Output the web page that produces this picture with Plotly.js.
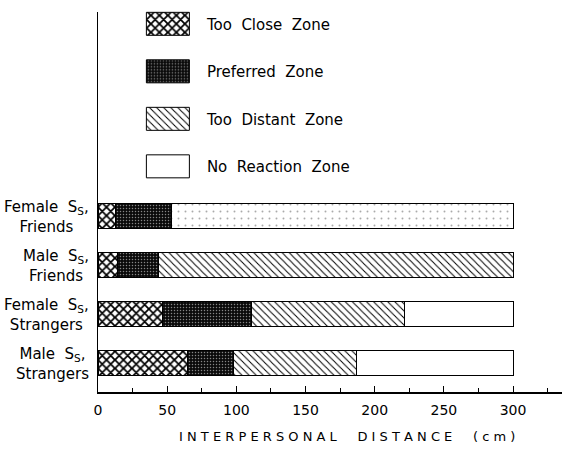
<!DOCTYPE html>
<html><head><meta charset="utf-8">
<script src="https://cdn.plot.ly/plotly-3.0.1.min.js"></script>
<style>html,body{margin:0;padding:0;background:#fff;}#chart{width:562px;height:453px;}</style>
</head><body><div id="chart"></div>
<script>
// categories from bottom (index 0) to top
const categories = ["Male&nbsp; S<sub>S</sub>,<br>Strangers", "Female&nbsp; S<sub>S</sub>,<br>Strangers", "Male&nbsp; S<sub>S</sub>,<br>Friends", "Female&nbsp; S<sub>S</sub>,<br>Friends"];
const tooClose   = [64.6, 46.8, 14.2, 12.3];
const preferred  = [33.2, 63.8, 29.4, 40.5];
const tooDistant = [89.2, 110.9, 256.4, 247.2];
const noReaction = [113.0, 78.5, 0, 0];
const xTicks = [0, 50, 100, 150, 200, 250, 300];
const seriesNames = ["Too&nbsp; Close&nbsp; Zone", "Preferred&nbsp; Zone", "Too&nbsp; Distant&nbsp; Zone", "No&nbsp; Reaction&nbsp; Zone"];
const xTitle = "I N T E R P E R S O N A L &nbsp; &nbsp; D I S T A N C E &nbsp; &nbsp; ( c m )";

const pos = categories.map((c, i) => i);
const font = "DejaVu Sans, sans-serif";
const line = {color: "#000", width: 1};

function tr(name, vals, pattern, color, g) {
  return {type: "bar", orientation: "h", name: name, x: vals, y: pos, width: 0.52,
    legendgroup: g,
    marker: {color: color, line: line, pattern: pattern}, hoverinfo: "skip"};
}
const traces = [
  tr(seriesNames[0], tooClose, {shape: "x", size: 6, solidity: 0.5, fgcolor: "#000", bgcolor: "#fff"}, "#fff", "a"),
  tr(seriesNames[1], preferred, {shape: ".", size: 3, solidity: 0.2, fgcolor: "#fff", bgcolor: "#0a0a0a", fillmode: "overlay"}, "#0a0a0a", "b"),
  tr(seriesNames[2], tooDistant, {shape: ["\\", "\\", "\\", "."], size: [5, 5, 5, 7], solidity: [0.2, 0.2, 0.2, 0.06], fgcolor: ["#000", "#000", "#000", "#aaa"], bgcolor: "#fff"}, "#fff", "c"),
  tr(seriesNames[3], noReaction, {shape: "", fgcolor: "#000", bgcolor: "#fff"}, "#fff", "d")
];

const annotations = categories.map((c, i) => ({
  x: 0, xref: "paper", xshift: -7, xanchor: "right", y: i, yref: "y", yanchor: "middle", yshift: -1,
  text: c, showarrow: false, align: "center", font: {family: font, size: 15, color: "#000"}
}));
annotations.push({
  x: 180, xref: "x", y: 0, yref: "paper", yshift: -44, xanchor: "center", yanchor: "middle",
  text: xTitle, showarrow: false, font: {family: font, size: 13, color: "#000"}
});

const layout = {
  width: 562, height: 453,
  margin: {l: 98, r: 0, t: 12, b: 61},
  paper_bgcolor: "#fff", plot_bgcolor: "#fff",
  barmode: "stack", bargap: 0,
  font: {family: font, size: 14, color: "#000"},
  showlegend: true,
  legend: {x: 0.1075, xanchor: "left", y: 1.0116, yanchor: "top", traceorder: "grouped", tracegroupgap: 25,
    font: {family: font, size: 15, color: "#000"}, bgcolor: "rgba(0,0,0,0)"},
  xaxis: {range: [0, 335.4], tickvals: xTicks, ticktext: xTicks.map(String), ticks: "inside", ticklen: 6,
    tickcolor: "#000", showline: true, linecolor: "#000", linewidth: 1.5, showgrid: false, zeroline: false,
    ticklabelstandoff: 5,
    minor: {dtick: 25, tick0: 0, ticks: "inside", ticklen: 4, tickcolor: "#000", showgrid: false},
    tickfont: {family: font, size: 14}, fixedrange: true},
  yaxis: {range: [-0.59, 7.16], showticklabels: false, ticks: "", showline: true, linecolor: "#000", linewidth: 1.5,
    showgrid: false, zeroline: false, fixedrange: true},
  annotations: annotations
};

Plotly.newPlot("chart", traces, layout, {staticPlot: true}).then(function () {
  const barTraces = document.querySelectorAll(".barlayer .trace");
  document.querySelectorAll(".legend .scrollbox").forEach(function (s) { s.removeAttribute("clip-path"); });
  document.querySelectorAll(".legend .traces").forEach(function (t, i) {
    const p = t.querySelector(".legendpoints path");
    if (p) {
      p.setAttribute("d", "M21.5,11.5H-21.5V-11.5H21.5Z");
      const bt = barTraces[i] && barTraces[i].querySelector(".point path");
      if (bt && bt.style.fill) p.style.fill = bt.style.fill;
    }
    const tx = t.querySelector(".legendtext");
    if (tx) tx.setAttribute("transform", "translate(19,0)");
  });
});
</script></body></html>
